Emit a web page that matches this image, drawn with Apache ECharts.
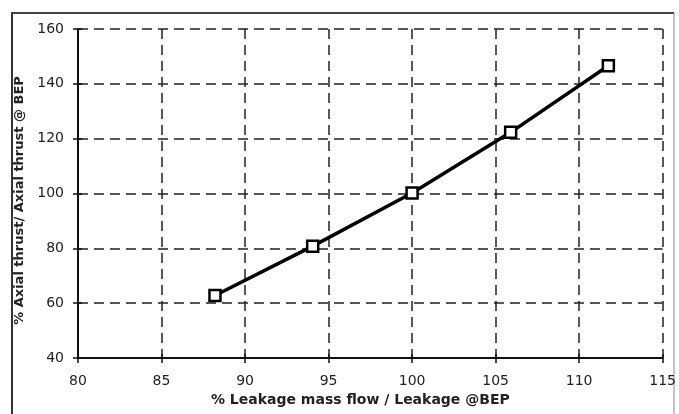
<!DOCTYPE html>
<html>
<head>
<meta charset="utf-8">
<script src="https://cdn.jsdelivr.net/npm/echarts@6/dist/echarts.min.js"></script>
<style>
html,body{margin:0;padding:0;background:#fff;}
#chart{width:679px;height:414px;}
</style>
</head>
<body>
<div id="chart"></div>
<script>
// Data
const leakageFlow = [88.2, 94.05, 100.0, 105.9, 111.75];   // % Leakage mass flow / Leakage @BEP
const axialThrust = [62.8, 80.8, 100.2, 122.3, 146.6];      // % Axial thrust / Axial thrust @ BEP
const xTicks = [80, 85, 90, 95, 100, 105, 110, 115];
const yTicks = [40, 60, 80, 100, 120, 140, 160];
const xTitle = '% Leakage mass flow / Leakage @BEP';
const yTitle = '% Axial thrust/ Axial thrust @ BEP';

const points = leakageFlow.map((x, i) => [x, axialThrust[i]]);
const FONT = 'DejaVu Sans';

const chart = echarts.init(document.getElementById('chart'), null, {renderer: 'canvas'});

const gridLine = {show: true, showMinLine: false, lineStyle: {color: '#222', width: 1.5, type: [10, 6]}};
const xMin = xTicks[0], xMax = xTicks[xTicks.length - 1];
const yMin = yTicks[0], yMax = yTicks[yTicks.length - 1];

chart.setOption({
  animation: false,
  backgroundColor: '#fff',
  grid: {left: 78, right: 16, top: 29, bottom: 56, containLabel: false},
  graphic: [
    {type: 'line', shape: {x1: 12, y1: 13, x2: 12, y2: 420}, style: {stroke: '#333', lineWidth: 2}},
    {type: 'line', shape: {x1: 11, y1: 13, x2: 674, y2: 13}, style: {stroke: '#444', lineWidth: 2}},
    {type: 'line', shape: {x1: 674, y1: 13, x2: 674, y2: 420}, style: {stroke: '#888', lineWidth: 1}}
  ],
  xAxis: [
    {
      type: 'value', min: xMin, max: xMax, interval: 5,
      position: 'bottom', z: 1,
      name: xTitle, nameLocation: 'middle', nameGap: 35,
      nameTextStyle: {fontFamily: FONT, fontSize: 14, fontWeight: 'bold', color: '#222', padding: [0, 20, 0, 0]},
      axisLine: {show: false},
      axisTick: {show: true, length: 5, lineStyle: {color: '#111', width: 1.5}},
      axisLabel: {fontFamily: FONT, fontSize: 14, color: '#222', margin: 16},
      splitLine: gridLine
    },
    {
      type: 'value', min: xMin, max: xMax, interval: 5,
      position: 'bottom', z: 3,
      axisLine: {show: true, onZero: false, lineStyle: {color: '#111', width: 2}},
      axisTick: {show: true, inside: true, length: 4, lineStyle: {color: '#111', width: 1.5}},
      axisLabel: {show: false},
      splitLine: {show: false}
    }
  ],
  yAxis: [
    {
      type: 'value', min: yMin, max: yMax, interval: 20,
      position: 'left', z: 1,
      name: yTitle, nameLocation: 'middle', nameGap: 39, nameRotate: 90,
      nameTextStyle: {fontFamily: FONT, fontSize: 13, fontWeight: 'bold', color: '#222', padding: [0, 14, 0, 0]},
      axisLine: {show: false},
      axisTick: {show: true, length: 5, lineStyle: {color: '#111', width: 1.5}},
      axisLabel: {fontFamily: FONT, fontSize: 14, color: '#222', margin: 14},
      splitLine: gridLine
    },
    {
      type: 'value', min: yMin, max: yMax, interval: 20,
      position: 'left', z: 3,
      axisLine: {show: true, onZero: false, lineStyle: {color: '#111', width: 2}},
      axisTick: {show: true, inside: true, length: 4, lineStyle: {color: '#111', width: 1.5}},
      axisLabel: {show: false},
      splitLine: {show: false}
    }
  ],
  series: [{
    type: 'line',
    xAxisIndex: 0, yAxisIndex: 0,
    data: points,
    lineStyle: {color: '#000', width: 3.5},
    symbol: 'rect', symbolSize: 11,
    itemStyle: {color: '#fff', borderColor: '#000', borderWidth: 2.5},
    z: 5
  }]
});
</script>
</body>
</html>
